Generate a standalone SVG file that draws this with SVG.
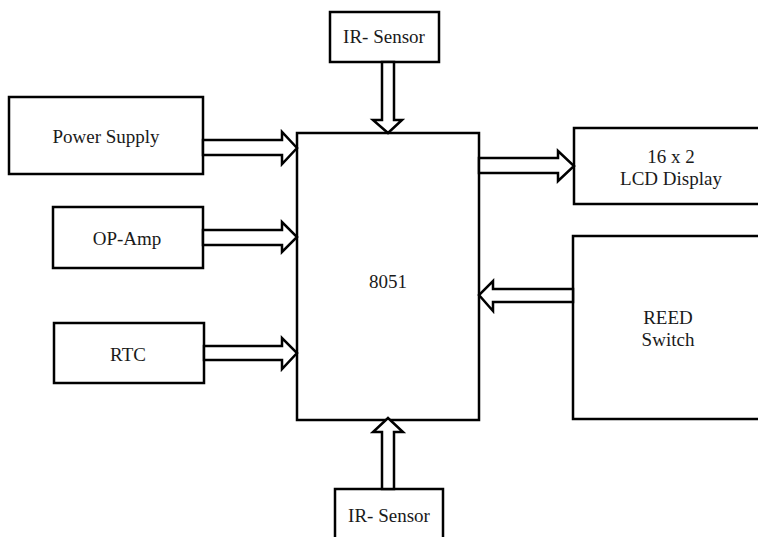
<svg xmlns="http://www.w3.org/2000/svg" width="758" height="537" viewBox="0 0 758 537">
<style>
.box{fill:#fff;stroke:#000;stroke-width:2.5}
.arr{fill:#fff;stroke:#000;stroke-width:2.5;stroke-linejoin:miter}
.t{font-family:'Liberation Serif','Times New Roman','DejaVu Serif',serif;font-size:19px;fill:#1a1a1a;text-anchor:middle}
</style>
<rect width="758" height="537" fill="#fff"/>
<g id="power-supply"><rect class="box" x="9" y="97" width="194" height="77"/><text class="t" font-family="Liberation Serif, serif" x="106" y="143">Power Supply</text></g>
<g id="op-amp"><rect class="box" x="53" y="207" width="150" height="61"/><text class="t" font-family="Liberation Serif, serif" x="127" y="245">OP-Amp</text></g>
<g id="rtc"><rect class="box" x="54" y="323" width="150" height="60"/><text class="t" font-family="Liberation Serif, serif" x="128" y="361">RTC</text></g>
<g id="mcu-8051"><rect class="box" x="297" y="133" width="182" height="287"/><text class="t" font-family="Liberation Serif, serif" x="388" y="288">8051</text></g>
<g id="ir-sensor-top"><rect class="box" x="330" y="12" width="109" height="50"/><text class="t" font-family="Liberation Serif, serif" x="384" y="43">IR- Sensor</text></g>
<g id="ir-sensor-bottom"><rect class="box" x="335" y="489" width="108" height="60"/><text class="t" font-family="Liberation Serif, serif" x="389" y="522">IR- Sensor</text></g>
<g id="lcd"><rect class="box" x="574" y="128" width="196" height="76"/><text class="t" font-family="Liberation Serif, serif" x="671" y="163">16 x 2</text><text class="t" font-family="Liberation Serif, serif" x="671" y="185">LCD Display</text></g>
<g id="reed"><rect class="box" x="573" y="236" width="197" height="183"/><text class="t" font-family="Liberation Serif, serif" x="668" y="324">REED</text><text class="t" font-family="Liberation Serif, serif" x="668" y="346">Switch</text></g>
<g id="connectors">
<polygon class="arr" points="203,140 282,140 282,132 297,148 282,164 282,155 203,155"/>
<polygon class="arr" points="203,230 282,230 282,222 297,237 282,252 282,245 203,245"/>
<polygon class="arr" points="204,346 282,346 282,338 297,353 282,369 282,360 204,360"/>
<polygon class="arr" points="479,158 558,158 558,151 574,166 558,181 558,173 479,173"/>
<polygon class="arr" points="573,289 493,289 493,281 479,295 493,311 493,302 573,302"/>
<polygon class="arr" points="382,62 394,62 394,120 402,120 388,133 373,120 382,120"/>
<polygon class="arr" points="382,489 394,489 394,432 403,432 388,418 373,432 382,432"/>
</g>
</svg>
